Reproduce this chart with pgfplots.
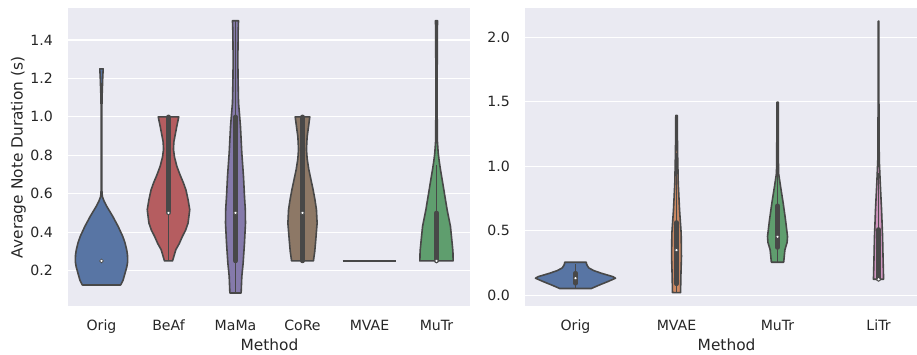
\documentclass[border=0pt]{standalone}
\usepackage{fontspec}
\setmainfont{DejaVu Sans}
\usepackage{pgfplots}
\pgfplotsset{compat=1.18}
\definecolor{bg}{HTML}{EAEAF2}
\definecolor{lc}{HTML}{484848}
\definecolor{txt}{HTML}{262626}
\definecolor{cblue}{HTML}{5875A4}
\definecolor{cred}{HTML}{B55D60}
\definecolor{cpurple}{HTML}{857AAB}
\definecolor{cbrown}{HTML}{8D7866}
\definecolor{cgreen}{HTML}{5F9E6E}
\definecolor{corange}{HTML}{CC8963}
\definecolor{cpink}{HTML}{D095BF}
\pgfplotsset{
  vio/.style={draw=lc, line width=1.6pt, line join=round, line cap=round, fill=#1},
  box/.style={lc, line width=4.6pt, line cap=round},
  whisk/.style={lc, line width=1.5pt},
  med/.style={only marks, mark=*, mark size=1.9pt, mark options={fill=white, draw=lc, line width=0.6pt}},
  base/.style={scale only axis, height=297.4pt, anchor=south west,
    axis background/.style={fill=bg}, axis line style={draw=none},
    major tick length=0pt, ymajorgrids, xmajorgrids=false,
    grid style={white, line width=1.1pt},
    tick label style={font=\fontsize{14.1pt}{16pt}\selectfont, text=txt, inner sep=0pt},
    /pgf/number format/assume math mode=true,
    yticklabel style={xshift=-15pt},
    yticklabel={\pgfmathprintnumber[fixed,fixed zerofill,precision=1,assume math mode=true]{\tick}},
    xticklabel style={yshift=-14pt}}
}
\begin{document}
\begin{tikzpicture}
\useasboundingbox (0pt,0pt) rectangle (917pt,354pt);
\begin{axis}[base, at={(68pt,48.3pt)}, width=402pt,
  xmin=-0.5, xmax=5.5, ymin=0.017, ymax=1.565,
  xtick={0,1,2,3,4,5}, xticklabels={Orig,BeAf,MaMa,CoRe,MVAE,MuTr},
  ytick={0.2,0.4,0.6,0.8,1.0,1.2,1.4}]
% Orig
\addplot[vio=cblue] coordinates {(0.287,0.125)(0.322,0.15)(0.352,0.187)(0.378,0.22)(0.391,0.247)(0.388,0.28)(0.376,0.308)(0.35,0.345)(0.317,0.378)(0.248,0.43)(0.168,0.482)(0.079,0.534)(0.04,0.56)(0.012,0.586)(0.005,0.62)(0.003,0.8)(0.004,1.0)(0.008,1.1)(0.018,1.2)(0.025,1.25)
(-0.025,1.25)(-0.018,1.2)(-0.008,1.1)(-0.004,1.0)(-0.003,0.8)(-0.005,0.62)(-0.012,0.586)(-0.04,0.56)(-0.079,0.534)(-0.168,0.482)(-0.248,0.43)(-0.317,0.378)(-0.35,0.345)(-0.376,0.308)(-0.388,0.28)(-0.391,0.247)(-0.378,0.22)(-0.352,0.187)(-0.322,0.15)(-0.287,0.125)(0.287,0.125)};
% BeAf
\addplot[vio=cred, x filter/.expression={x+1}] coordinates {(0.06,0.25)(0.109,0.308)(0.16,0.34)(0.208,0.378)(0.255,0.41)(0.292,0.447)(0.317,0.517)(0.292,0.569)(0.26,0.62)(0.223,0.656)(0.17,0.70)(0.124,0.743)(0.09,0.79)(0.074,0.83)(0.08,0.87)(0.094,0.896)(0.124,0.951)(0.153,1.0)
(-0.153,1.0)(-0.124,0.951)(-0.094,0.896)(-0.08,0.87)(-0.074,0.83)(-0.09,0.79)(-0.124,0.743)(-0.17,0.70)(-0.223,0.656)(-0.26,0.62)(-0.292,0.569)(-0.317,0.517)(-0.292,0.447)(-0.255,0.41)(-0.208,0.378)(-0.16,0.34)(-0.109,0.308)(-0.06,0.25)(0.06,0.25)};
% MaMa
\addplot[vio=cpurple, x filter/.expression={x+2}] coordinates {(0.084,0.083)(0.094,0.169)(0.114,0.239)(0.134,0.343)(0.149,0.447)(0.146,0.52)(0.134,0.586)(0.119,0.691)(0.094,0.813)(0.074,0.951)(0.058,1.02)(0.045,1.073)(0.038,1.2)(0.035,1.3)(0.04,1.45)(0.045,1.5)
(-0.045,1.5)(-0.04,1.45)(-0.035,1.3)(-0.038,1.2)(-0.045,1.073)(-0.058,1.02)(-0.074,0.951)(-0.094,0.813)(-0.119,0.691)(-0.134,0.586)(-0.146,0.52)(-0.149,0.447)(-0.134,0.343)(-0.114,0.239)(-0.094,0.169)(-0.084,0.083)(0.084,0.083)};
% CoRe
\addplot[vio=cbrown, x filter/.expression={x+3}] coordinates {(0.163,0.25)(0.183,0.30)(0.198,0.36)(0.218,0.447)(0.208,0.517)(0.185,0.57)(0.158,0.621)(0.125,0.675)(0.094,0.726)(0.07,0.78)(0.059,0.83)(0.069,0.896)(0.09,0.95)(0.109,1.0)
(-0.109,1.0)(-0.09,0.95)(-0.069,0.896)(-0.059,0.83)(-0.07,0.78)(-0.094,0.726)(-0.125,0.675)(-0.158,0.621)(-0.185,0.57)(-0.208,0.517)(-0.218,0.447)(-0.198,0.36)(-0.183,0.30)(-0.163,0.25)(0.163,0.25)};
% MVAE
\addplot[draw=lc, line width=1.6pt] coordinates {(3.6,0.25)(4.4,0.25)};
% MuTr
\addplot[vio=cgreen, x filter/.expression={x+5}] coordinates {(0.248,0.25)(0.245,0.30)(0.233,0.343)(0.208,0.43)(0.158,0.517)(0.109,0.621)(0.059,0.726)(0.04,0.77)(0.025,0.813)(0.014,0.87)(0.01,1.0)(0.01,1.2)(0.011,1.4)(0.015,1.5)
(-0.015,1.5)(-0.011,1.4)(-0.01,1.2)(-0.01,1.0)(-0.014,0.87)(-0.025,0.813)(-0.04,0.77)(-0.059,0.726)(-0.109,0.621)(-0.158,0.517)(-0.208,0.43)(-0.233,0.343)(-0.245,0.30)(-0.248,0.25)(0.248,0.25)};
% inner boxes
\addplot[whisk] coordinates {(1,0.25)(1,0.5)};
\addplot[box] coordinates {(1,0.5)(1,1.0)};
\addplot[whisk] coordinates {(2,0.083)(2,1.5)};
\addplot[box] coordinates {(2,0.25)(2,1.0)};
\addplot[box] coordinates {(3,0.25)(3,1.0)};
\addplot[whisk] coordinates {(5,0.5)(5,0.75)};
\addplot[box] coordinates {(5,0.25)(5,0.5)};
\addplot[med] coordinates {(0,0.25)(1,0.5)(2,0.5)(3,0.5)(5,0.25)};
\end{axis}
\begin{axis}[base, at={(525pt,48.3pt)}, width=391.7pt,
  xmin=-0.5, xmax=3.378, ymin=-0.081, ymax=2.223,
  xtick={0,1,2,3}, xticklabels={Orig,MVAE,MuTr,LiTr},
  ytick={0,0.5,1.0,1.5,2.0}]
% Orig
\addplot[vio=cblue] coordinates {(0.155,0.052)(0.238,0.08)(0.32,0.106)(0.396,0.132)(0.37,0.144)(0.254,0.171)(0.181,0.191)(0.135,0.21)(0.122,0.222)(0.11,0.24)(0.106,0.256)
(-0.106,0.256)(-0.11,0.24)(-0.122,0.222)(-0.135,0.21)(-0.181,0.191)(-0.254,0.171)(-0.37,0.144)(-0.396,0.132)(-0.32,0.106)(-0.238,0.08)(-0.155,0.052)(0.155,0.052)};
% MVAE
\addplot[vio=corange, x filter/.expression={x+1}] coordinates {(0.04,0.02)(0.043,0.144)(0.049,0.30)(0.046,0.481)(0.03,0.662)(0.017,0.87)(0.01,1.128)(0.007,1.394)
(-0.007,1.394)(-0.01,1.128)(-0.017,0.87)(-0.03,0.662)(-0.046,0.481)(-0.049,0.30)(-0.043,0.144)(-0.04,0.02)(0.04,0.02)};
% MuTr
\addplot[vio=cgreen, x filter/.expression={x+2}] coordinates {(0.061,0.256)(0.073,0.352)(0.095,0.41)(0.099,0.455)(0.079,0.585)(0.056,0.714)(0.03,0.843)(0.01,0.947)(0.007,1.2)(0.007,1.495)
(-0.007,1.495)(-0.007,1.2)(-0.01,0.947)(-0.03,0.843)(-0.056,0.714)(-0.079,0.585)(-0.099,0.455)(-0.095,0.41)(-0.073,0.352)(-0.061,0.256)(0.061,0.256)};
% LiTr
\addplot[vio=cpink, x filter/.expression={x+3}] coordinates {(0.05,0.124)(0.046,0.248)(0.04,0.455)(0.03,0.662)(0.017,0.87)(0.007,1.05)(0.004,1.5)(0.003,2.124)
(-0.003,2.124)(-0.004,1.5)(-0.007,1.05)(-0.017,0.87)(-0.03,0.662)(-0.04,0.455)(-0.046,0.248)(-0.05,0.124)(0.05,0.124)};
% inner boxes
\addplot[whisk] coordinates {(0,0.059)(0,0.243)};
\addplot[box] coordinates {(0,0.093)(0,0.171)};
\addplot[whisk] coordinates {(1,0.02)(1,1.1)};
\addplot[box] coordinates {(1,0.088)(1,0.564)};
\addplot[whisk] coordinates {(2,0.256)(2,1.0)};
\addplot[box] coordinates {(2,0.37)(2,0.693)};
\addplot[whisk] coordinates {(3,0.124)(3,0.95)};
\addplot[box] coordinates {(3,0.124)(3,0.51)};
\addplot[med] coordinates {(0,0.132)(1,0.35)(2,0.453)(3,0.124)};
\end{axis}
\node[rotate=90, font=\fontsize{15.4pt}{18pt}\selectfont, text=txt, inner sep=0pt] at (18.3pt,196.6pt) {Average Note Duration (s)};
\node[anchor=base, font=\fontsize{15.4pt}{18pt}\selectfont, text=txt, inner sep=0pt] at (269.5pt,3.5pt) {Method};
\node[anchor=base, font=\fontsize{15.4pt}{18pt}\selectfont, text=txt, inner sep=0pt] at (726.6pt,3.5pt) {Method};
\end{tikzpicture}
\end{document}
